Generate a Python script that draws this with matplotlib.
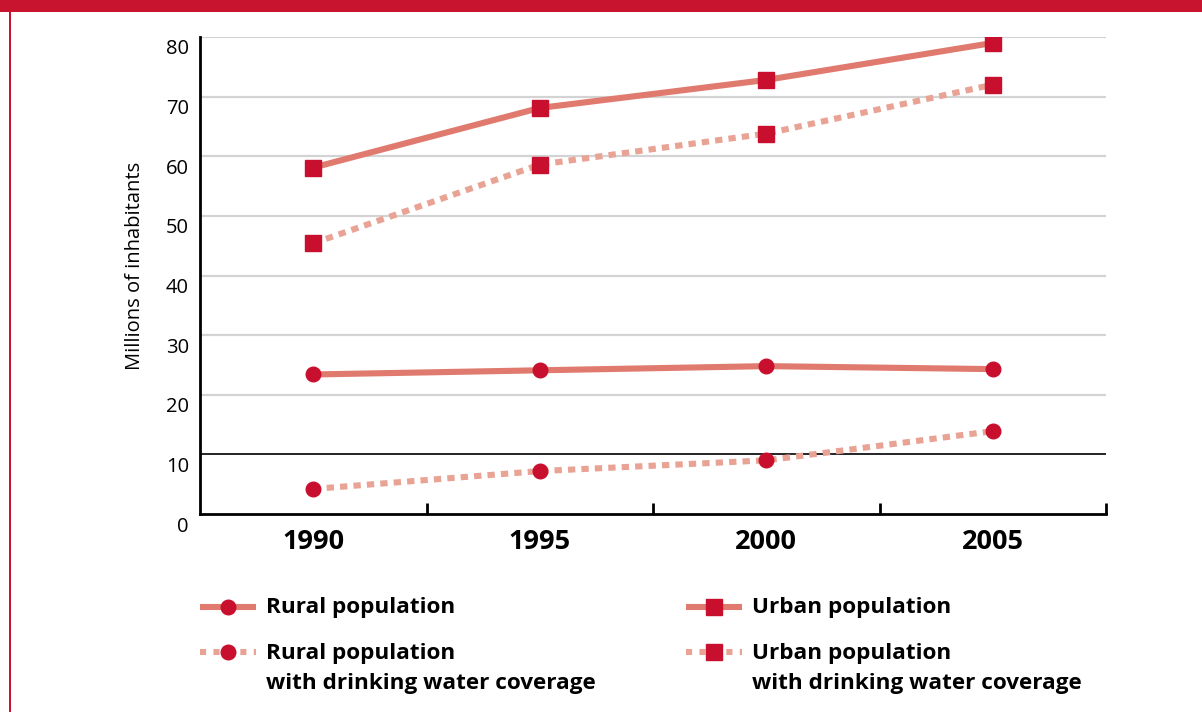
import matplotlib
matplotlib.use('Agg')
import matplotlib.pyplot as plt
import matplotlib.transforms as mtransforms
from matplotlib.patches import Rectangle

years = [1990, 1995, 2000, 2005]
urban_population = [58.1, 68.1, 72.8, 79.0]
urban_water = [45.4, 58.6, 63.8, 72.0]
rural_population = [23.4, 24.1, 24.8, 24.3]
rural_water = [4.2, 7.2, 9.0, 13.9]
y_ticks = [0, 10, 20, 30, 40, 50, 60, 70, 80]

LINE = '#E07A6E'
DOTS = '#E9A395'
MARK = '#C8102E'
FONT = 'Open Sans'

plt.rcParams['font.family'] = [FONT, 'DejaVu Sans']

fig = plt.figure(figsize=(12.02, 7.12), dpi=100)
W, H = 1202, 712

ax = fig.add_axes([200 / W, 1 - 514 / H, 906 / W, 477 / H])

# gridlines (the 10 line is black in the original)
for t in y_ticks[2:]:
    ax.axhline(t, color='#D3D3D3', lw=1.6, zorder=1)
ax.axhline(10, color='black', lw=1.2, zorder=1)

solid = dict(color=LINE, lw=4.4, solid_capstyle='butt', zorder=3)
dotted = dict(color=DOTS, lw=4.4, linestyle=(0, (1.2, 1.0)), dash_capstyle='butt', zorder=3)
sq = dict(marker='s', markersize=11, markerfacecolor=MARK, markeredgecolor=MARK, zorder=4)
ci = dict(marker='o', markersize=10.5, markerfacecolor=MARK, markeredgecolor=MARK, zorder=4)

ax.plot(years, urban_population, **solid)
ax.plot(years, urban_water, **dotted)
ax.plot(years, rural_population, **solid)
ax.plot(years, rural_water, **dotted)
ax.plot(years, urban_population, linestyle='none', **sq)
ax.plot(years, urban_water, linestyle='none', **sq)
ax.plot(years, rural_population, linestyle='none', **ci)
ax.plot(years, rural_water, linestyle='none', **ci)

ax.set_xlim(1987.5, 2007.5)
ax.set_ylim(0, 80)

for side in ['top', 'right']:
    ax.spines[side].set_visible(False)
ax.spines['left'].set_linewidth(2)
ax.spines['bottom'].set_linewidth(2)

ax.set_xticks(years)
ax.set_xticklabels([str(y) for y in years], fontsize=19.5, fontweight='bold')
ax.set_xticks([1992.5, 1997.5, 2002.5, 2007.5], minor=True)
ax.tick_params(axis='x', which='major', length=0, pad=11)
ax.tick_params(axis='x', which='minor', direction='in', length=8, width=2)

ax.set_yticks(y_ticks)
ax.set_yticklabels([str(t) for t in y_ticks], fontsize=14.5)
ax.tick_params(axis='y', length=0, pad=8)
shift = mtransforms.ScaledTranslation(0, -10 / 100, fig.dpi_scale_trans)
for lab in ax.get_yticklabels():
    lab.set_transform(lab.get_transform() + shift)

ax.text(-0.0715, 0.52, 'Millions of inhabitants', transform=ax.transAxes,
        rotation=90, ha='center', va='center', fontsize=14.5)

# overlay in pixel coordinates for the frame and the legend
ov = fig.add_axes([0, 0, 1, 1], zorder=-1)
ov.set_xlim(0, W)
ov.set_ylim(H, 0)
ov.axis('off')
ov.add_patch(Rectangle((0, 0), W, 12, color='#C8142F', lw=0))
ov.add_patch(Rectangle((9, 12), 2.2, H - 12, color='#C8142F', lw=0))

ov2 = fig.add_axes([0, 0, 1, 1])
ov2.set_xlim(0, W)
ov2.set_ylim(H, 0)
ov2.axis('off')

leg_solid = dict(solid)
leg_dots = dict(dotted)
leg_dots['linestyle'] = (0, (1.0, 1.2))

entries = [
    (200, 607, leg_solid, ci, ['Rural population']),
    (200, 652, leg_dots, ci, ['Rural population', 'with drinking water coverage']),
    (686, 607, leg_solid, sq, ['Urban population']),
    (686, 652, leg_dots, sq, ['Urban population', 'with drinking water coverage']),
]
for x0, y0, lstyle, mstyle, lines in entries:
    ov2.plot([x0, x0 + 56], [y0, y0], **lstyle)
    ov2.plot([x0 + 28], [y0], linestyle='none', **mstyle)
    for i, line in enumerate(lines):
        ov2.text(x0 + 66, y0 + 1 + 30 * i, line, ha='left', va='center',
                 fontsize=16.2, fontweight='bold')

fig.savefig('out.png', dpi=100)
